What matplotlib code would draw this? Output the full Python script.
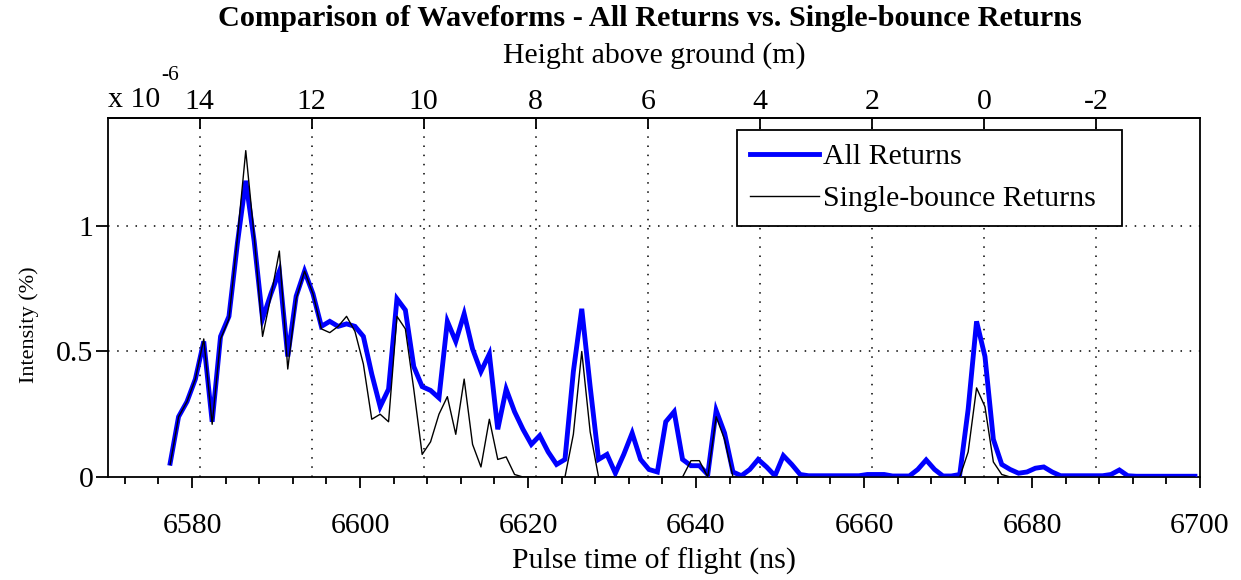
import numpy as np
import matplotlib
matplotlib.use("Agg")
import matplotlib.pyplot as plt
from matplotlib.ticker import MultipleLocator, FuncFormatter, FixedLocator

# ---------------- data ----------------
t_start = 6577.4   # ns, time of first waveform sample
t_step = 1.0       # ns, digitiser sampling interval

# intensity, units of 1e-6 %
all_returns = [
    0.055, 0.24, 0.30, 0.39, 0.54, 0.22, 0.56, 0.64, 0.93, 1.18,
    0.94, 0.63, 0.73, 0.82, 0.48, 0.72, 0.82, 0.73, 0.60, 0.62,
    0.60, 0.61, 0.60, 0.56, 0.41, 0.28, 0.35, 0.71, 0.665, 0.44,
    0.36, 0.345, 0.315, 0.62, 0.54, 0.65, 0.51, 0.42, 0.49, 0.19,
    0.35, 0.26, 0.19, 0.13, 0.165, 0.10, 0.05, 0.07, 0.42, 0.67,
    0.36, 0.07, 0.09, 0.015, 0.09, 0.175, 0.07, 0.03, 0.02, 0.22,
    0.26, 0.07, 0.045, 0.045, 0.01, 0.265, 0.175, 0.02, 0.005, 0.03,
    0.07, 0.04, 0.005, 0.085, 0.05, 0.01, 0.005, 0.005, 0.005, 0.005,
    0.005, 0.005, 0.005, 0.01, 0.01, 0.01, 0.004, 0.004, 0.004, 0.03,
    0.068, 0.03, 0.004, 0.004, 0.01, 0.27, 0.62, 0.48, 0.15, 0.05,
    0.03, 0.015, 0.02, 0.035, 0.04, 0.02, 0.005, 0.005, 0.005, 0.005,
    0.005, 0.005, 0.01, 0.028, 0.005, 0.003, 0.003, 0.003, 0.003, 0.003,
    0.003, 0.003, 0.003,
]
single_bounce = [
    0.05, 0.24, 0.30, 0.39, 0.55, 0.21, 0.55, 0.63, 0.95, 1.30,
    0.96, 0.56, 0.72, 0.90, 0.43, 0.71, 0.82, 0.73, 0.59, 0.575,
    0.60, 0.64, 0.58, 0.45, 0.23, 0.25, 0.22, 0.64, 0.59, 0.35,
    0.09, 0.14, 0.25, 0.32, 0.17, 0.39, 0.13, 0.04, 0.23, 0.07,
    0.08, 0.01, 0.0, 0.0, 0.0, 0.0, 0.0, 0.0, 0.17, 0.50,
    0.18, 0.0, 0.0, 0.0, 0.0, 0.0, 0.0, 0.0, 0.0, 0.0,
    0.0, 0.0, 0.065, 0.065, 0.0, 0.24, 0.15, 0.0, 0.0, 0.0,
    0.0, 0.0, 0.0, 0.0, 0.0, 0.0, 0.0, 0.0, 0.0, 0.0,
    0.0, 0.0, 0.0, 0.0, 0.0, 0.0, 0.0, 0.0, 0.0, 0.0,
    0.0, 0.0, 0.0, 0.0, 0.0, 0.10, 0.355, 0.28, 0.06, 0.01,
    0.0, 0.0, 0.0, 0.0, 0.0, 0.0, 0.0, 0.0, 0.0, 0.0,
    0.0, 0.0, 0.0, 0.0, 0.0, 0.0, 0.0, 0.0, 0.0, 0.0,
    0.0, 0.0, 0.0,
]
series_labels = ["All Returns", "Single-bounce Returns"]

x_ticks = [6580, 6600, 6620, 6640, 6660, 6680, 6700]
y_ticks = [0, 0.5, 1]
height_ticks = [14, 12, 10, 8, 6, 4, 2, 0, -2]

t_ground = 6674.3          # ns, time of flight at ground level
half_c = 0.299792458 / 2   # m/ns, two-way travel

times = t_start + t_step * np.arange(len(all_returns))

# ---------------- style ----------------
plt.rcParams["font.family"] = ["Liberation Serif", "DejaVu Serif"]
FS = 21.5

W, H = 1241, 580
fig = plt.figure(figsize=(W / 100, H / 100), dpi=100)
ax = fig.add_axes([108 / W, 1 - 477 / H, 1092 / W, 359 / H])

ax.plot(times, all_returns, color="#0000ff", lw=3.5, label=series_labels[0],
        solid_joinstyle="miter", zorder=3)
ax.plot(times, single_bounce, color="black", lw=1.0, label=series_labels[1],
        zorder=4)

ax.set_xlim(6570, 6700)
ax.set_ylim(0, 1.43)

ax.xaxis.set_major_locator(FixedLocator(x_ticks))
ax.xaxis.set_minor_locator(MultipleLocator(4))
ax.yaxis.set_major_locator(FixedLocator(y_ticks))
ax.yaxis.set_major_formatter(FuncFormatter(lambda v, p: f"{v:g}"))

for s in ax.spines.values():
    s.set_linewidth(1.3)

ax.tick_params(axis="x", which="major", direction="out", length=8, width=1.3,
               pad=18, labelsize=FS)
ax.tick_params(axis="x", which="minor", direction="out", length=4.8, width=1.3)
ax.tick_params(axis="y", which="major", direction="out", length=8.6, width=1.3,
               pad=2, labelsize=FS)

ax.set_xlabel("Pulse time of flight (ns)", fontsize=FS, labelpad=6.5)
ax.set_ylabel("Intensity (%)", fontsize=16)
ax.yaxis.set_label_coords((39 - 108) / 1092, (477 - 325) / 359)


def t2h(t):
    return (t_ground - np.asarray(t, dtype=float)) * half_c


def h2t(h):
    return t_ground - np.asarray(h, dtype=float) / half_c


sec = ax.secondary_xaxis("top", functions=(t2h, h2t))
sec.xaxis.set_major_locator(FixedLocator(height_ticks))
sec.xaxis.set_major_formatter(FuncFormatter(lambda v, p: f"{v:g}"))
sec.tick_params(axis="x", direction="in", length=8, width=1.3, pad=2,
                labelsize=FS)
sec.set_xlabel("Height above ground (m)", fontsize=FS, labelpad=19)
sec.spines["top"].set_linewidth(1.3)

# dotted grid: verticals at height ticks, horizontals at intensity ticks
grid_kw = dict(color="black", lw=1.1, linestyle=(0, (1, 5)), zorder=1)
for h in height_ticks:
    ax.axvline(h2t(h), **grid_kw)
for yv in y_ticks[1:]:
    ax.axhline(yv, **grid_kw)

leg_x0 = (737 - 108) / 1092
leg_w = (1122 - 737) / 1092
leg_top = (477 - 130) / 359
leg = ax.legend(loc="upper left", bbox_to_anchor=(leg_x0, leg_top - 0.5, leg_w, 0.5),
                mode="expand", fontsize=FS, frameon=True, fancybox=False,
                framealpha=1, edgecolor="black", handlelength=2.3,
                handletextpad=0.12, borderpad=0.45, labelspacing=0.5,
                borderaxespad=0)
leg.get_frame().set_linewidth(1.3)

# multiplier text
fig.text(108 / W, 1 - 100 / H, "x 10", fontsize=FS, ha="left", va="center")
fig.text(161 / W, 1 - 76 / H, "-6", fontsize=FS * 0.72, ha="left", va="center")

fig.text(0.5 * (218 + 1082) / W, 1 - 19 / H,
         "Comparison of Waveforms - All Returns vs. Single-bounce Returns",
         fontsize=21.8, fontweight="bold", ha="center", va="center")

fig.savefig("out.png", dpi=100)
